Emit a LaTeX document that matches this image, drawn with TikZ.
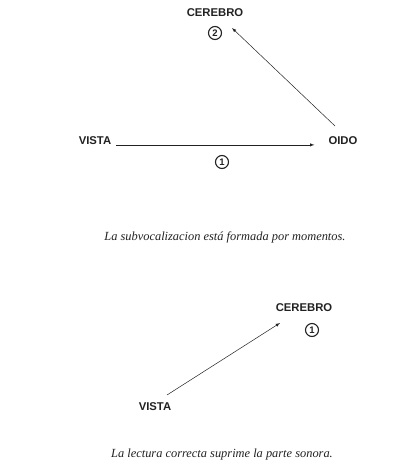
\documentclass[tikz,border=0pt]{standalone}
\usepackage{fontspec}
\setmainfont{Liberation Serif}
\setsansfont{Liberation Sans}
\usetikzlibrary{calc}
\definecolor{inkGray}{HTML}{222222}

\begin{document}
\begin{tikzpicture}[x=1pt,y=-1pt,>=latex]
  \tikzstyle{lbl}=[font=\sffamily\bfseries\fontsize{11.3}{13}\selectfont,text=inkGray,inner sep=2pt]
  \tikzstyle{num}=[circle,draw=inkGray,line width=1.1pt,inner sep=0pt,minimum size=13pt,font=\sffamily\bfseries\fontsize{9.5}{10}\selectfont,text=inkGray]
  \tikzstyle{captxt}=[font=\itshape\fontsize{12.4}{14}\selectfont,text=inkGray]
  \tikzstyle{arr}=[->,draw=inkGray,line width=0.5pt]
  \useasboundingbox (0,0) rectangle (407,476);
  % subvocalizacion
  \node[lbl] (cerebroA) at (215,13) {CEREBRO};
  \node[num] (numA2) at (215,33) {2};
  \node[lbl] (vistaA) at (95,141) {VISTA};
  \node[lbl] (oido) at (343,141) {OIDO};
  \node[num] (numA1) at (222,162) {1};
  \node[captxt] (capA) at (225,237) {La subvocalizacion está formada por momentos.};
  \draw[arr,shorten <=3pt,shorten >=12pt] (vistaA.base east) -- (oido.base west);
  \draw[arr] ($(oido)+(-8,-15)$) -- ($(numA2)+(17,-5)$);
  % lectura correcta
  \node[lbl] (cerebroB) at (304,308) {CEREBRO};
  \node[num] (numB1) at (312,330) {1};
  \node[lbl] (vistaB) at (155,407) {VISTA};
  \node[captxt] (capB) at (222,455) {La lectura correcta suprime la parte sonora.};
  \draw[arr] ($(vistaB)+(12,-12)$) -- ($(cerebroB)+(-24,15)$);
\end{tikzpicture}
\end{document}
